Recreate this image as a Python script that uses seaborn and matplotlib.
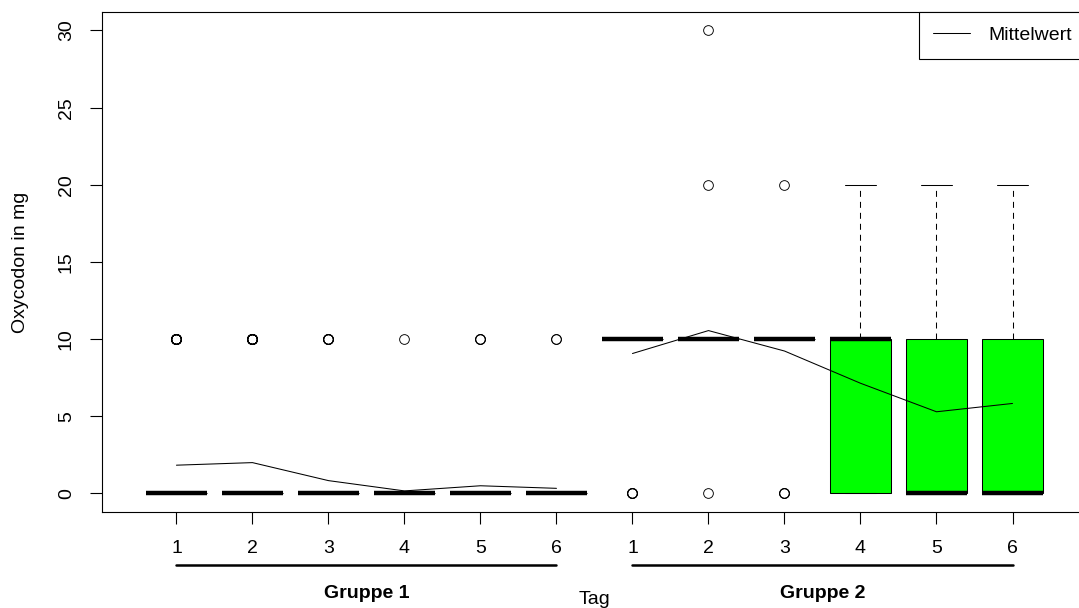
import matplotlib
matplotlib.use("Agg")
import matplotlib.pyplot as plt
from matplotlib.lines import Line2D
from matplotlib.transforms import blended_transform_factory
import seaborn as sns
import pandas as pd

# Oxycodon doses (mg) per day, as counts of each dose value
groups = ["Gruppe 1"] * 6 + ["Gruppe 2"] * 6
days = [1, 2, 3, 4, 5, 6, 1, 2, 3, 4, 5, 6]
dose_values = [0, 10, 20, 30]
# counts of patients with 0 / 10 / 20 / 30 mg for each box
counts_0 = [49, 48, 55, 59, 57, 58, 4, 1, 3, 9, 18, 19]
counts_10 = [11, 12, 5, 1, 3, 2, 39, 33, 22, 18, 14, 13]
counts_20 = [0, 0, 0, 0, 0, 0, 0, 1, 1, 1, 2, 4]
counts_30 = [0, 0, 0, 0, 0, 0, 0, 1, 0, 0, 0, 0]
box_colors = ["white"] * 9 + ["#00ff00"] * 3

rows = []
for i, (g, d) in enumerate(zip(groups, days)):
    key = f"{g} {d}"
    for v, cnt in zip(dose_values, [counts_0[i], counts_10[i], counts_20[i], counts_30[i]]):
        rows += [{"key": key, "Gruppe": g, "Tag": d, "Oxycodon": v}] * cnt
df = pd.DataFrame(rows)
order = [f"{g} {d}" for g, d in zip(groups, days)]

sns.set_style("white")
plt.rcParams["font.family"] = ["Liberation Sans", "DejaVu Sans"]
plt.rcParams["lines.scale_dashes"] = False
plt.rcParams["text.color"] = "black"
plt.rcParams["axes.labelcolor"] = "black"
plt.rcParams["xtick.color"] = "black"
plt.rcParams["ytick.color"] = "black"

fig = plt.figure(figsize=(10.79, 6.08), dpi=100)
ax = fig.add_axes([0.0945, 0.1579, 0.9129, 0.8224])

sns.boxplot(
    data=df, x="key", y="Oxycodon", hue="key", order=order, hue_order=order,
    palette=box_colors, saturation=1, legend=False, width=0.8, linecolor="black",
    linewidth=0.75, whis=1.5, ax=ax,
    medianprops=dict(linewidth=3.2, color="black", solid_capstyle="butt"),
    whiskerprops=dict(linestyle=(0, (4.3, 3.6)), color="black"),
    capprops=dict(color="black"),
    flierprops=dict(marker="o", markerfacecolor="none", markeredgecolor="black",
                    markersize=7, markeredgewidth=0.65),
)

# mean line per group
sns.pointplot(
    data=df, x="key", y="Oxycodon", hue="Gruppe", order=order,
    palette=["black", "black"], errorbar=None, markers="", dodge=False,
    linewidth=0.75, legend=False, ax=ax,
)

ax.set_xlim(-0.98, 11.98)
ax.set_ylim(-1.2, 31.2)
ax.set_yticks([0, 5, 10, 15, 20, 25, 30])
ax.set_xticks(range(12))
ax.set_xticklabels([str(d) for d in days])
for s in ax.spines.values():
    s.set_color("black")
    s.set_linewidth(0.8)
ax.tick_params(axis="both", which="both", direction="out", length=8.5, width=0.8,
               color="black", labelcolor="black", labelsize=14, left=True, bottom=True)
ax.tick_params(axis="x", pad=11.5)
ax.tick_params(axis="y", pad=11)
for lab in ax.get_yticklabels():
    lab.set_rotation(90)
    lab.set_va("center")

ax.set_ylabel("Oxycodon in mg", fontsize=14, color="black")
ax.yaxis.set_label_coords(-0.074, 0.5)
ax.set_xlabel("Tag", fontsize=14, color="black")
ax.xaxis.set_label_coords(0.5, -0.158)

trans = blended_transform_factory(ax.transData, ax.transAxes)
for start, label in [(0, "Gruppe 1"), (6, "Gruppe 2")]:
    ax.plot([start, start + 5], [-0.106, -0.106], color="black", linewidth=1.8,
            transform=trans, clip_on=False)
    ax.text(start + 2.5, -0.163, label, transform=trans, ha="center", va="center",
            fontsize=14, fontweight="bold", color="black")

handle = Line2D([], [], color="black", linewidth=0.75)
leg = ax.legend([handle], ["Mittelwert"], loc="upper right", bbox_to_anchor=(1, 1),
                borderaxespad=0, fontsize=14, frameon=True, fancybox=False,
                handlelength=1.9, handletextpad=0.95, borderpad=0.75)
leg.get_frame().set_edgecolor("black")
leg.get_frame().set_linewidth(0.8)
leg.get_frame().set_alpha(1)
for t in leg.get_texts():
    t.set_color("black")

fig.savefig("out.png", dpi=100)
